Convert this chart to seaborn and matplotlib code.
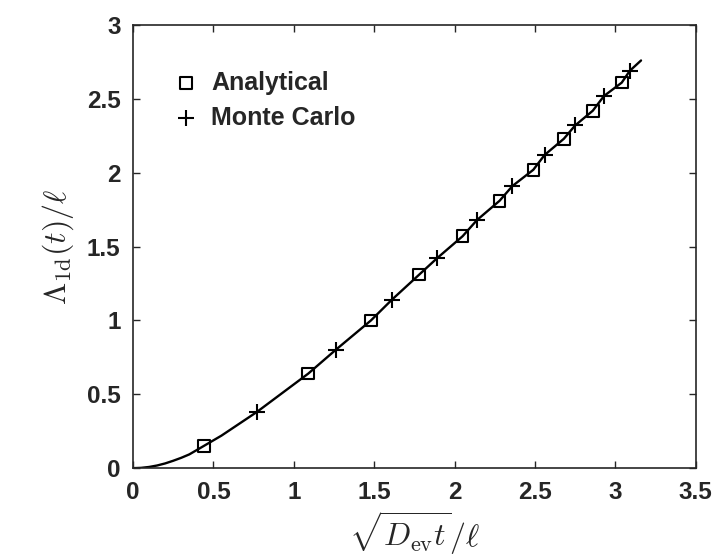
import matplotlib
matplotlib.use("Agg")
import matplotlib.pyplot as plt
import seaborn as sns
import pandas as pd

# Analytical points
x_analytical = [0.44, 1.09, 1.48, 1.78, 2.05, 2.28, 2.49, 2.68, 2.86, 3.04]
y_analytical = [0.15, 0.64, 1.00, 1.31, 1.57, 1.81, 2.02, 2.23, 2.42, 2.61]

# Monte Carlo points
x_mc = [0.77, 1.26, 1.61, 1.89, 2.14, 2.36, 2.56, 2.75, 2.93, 3.09]
y_mc = [0.38, 0.80, 1.14, 1.42, 1.68, 1.91, 2.12, 2.32, 2.52, 2.69]

# Continuous curve
x_curve = [0.0, 0.05, 0.1, 0.15, 0.2, 0.25, 0.3, 0.35, 0.44, 0.55, 0.66, 0.77,
           0.93, 1.09, 1.26, 1.48, 1.61, 1.78, 1.89, 2.05, 2.14, 2.28, 2.36,
           2.49, 2.56, 2.68, 2.75, 2.86, 2.93, 3.04, 3.09, 3.16]
y_curve = [0.0, 0.002, 0.008, 0.018, 0.032, 0.05, 0.07, 0.093, 0.15, 0.22,
           0.30, 0.38, 0.51, 0.64, 0.80, 1.00, 1.14, 1.31, 1.42, 1.57, 1.68,
           1.81, 1.91, 2.02, 2.12, 2.23, 2.32, 2.42, 2.52, 2.61, 2.69, 2.76]

x_ticks = [0, 0.5, 1, 1.5, 2, 2.5, 3, 3.5]
y_ticks = [0, 0.5, 1, 1.5, 2, 2.5, 3]
x_tick_labels = ["0", "0.5", "1", "1.5", "2", "2.5", "3", "3.5"]
y_tick_labels = ["0", "0.5", "1", "1.5", "2", "2.5", "3"]

sns.set_style("ticks")
plt.rcParams["font.family"] = ["Liberation Sans", "DejaVu Sans"]
plt.rcParams["mathtext.fontset"] = "cm"

fig = plt.figure(figsize=(7.15, 5.56), dpi=100)
ax = fig.add_axes([0.186, 0.158, 0.787, 0.797])

curve = pd.DataFrame({"x": x_curve, "y": y_curve})
ana = pd.DataFrame({"x": x_analytical, "y": y_analytical})
mc = pd.DataFrame({"x": x_mc, "y": y_mc})

sns.lineplot(data=curve, x="x", y="y", ax=ax, color="black", linewidth=1.7,
             sort=False, legend=False)
sns.scatterplot(data=ana, x="x", y="y", ax=ax, marker="s", s=70,
                facecolor="none", edgecolor="black", linewidth=1.5,
                label="Analytical", zorder=3)
sns.scatterplot(data=mc, x="x", y="y", ax=ax, marker="+", s=120,
                color="black", linewidth=1.5, label="Monte Carlo", zorder=3)

ax.set_xlim(0, 3.5)
ax.set_ylim(0, 3)
ax.set_xticks(x_ticks)
ax.set_xticklabels(x_tick_labels)
ax.set_yticks(y_ticks)
ax.set_yticklabels(y_tick_labels)
ax.tick_params(direction="in", top=True, right=True, length=5, width=1,
               labelsize=17.5, pad=9)
for lab in ax.get_xticklabels() + ax.get_yticklabels():
    lab.set_fontweight("bold")
for sp in ax.spines.values():
    sp.set_linewidth(1.2)

ax.set_xlabel(r"$\sqrt{D_{\rm ev}t}/\ell$", fontsize=23, labelpad=4)
ax.set_ylabel(r"$\Lambda_{\rm 1d}(t)/\ell$", fontsize=23, labelpad=8)

leg = ax.legend(loc="upper left", frameon=False, fontsize=18,
                bbox_to_anchor=(0.03, 0.948), handletextpad=0.45,
                labelspacing=0.45, handlelength=1.1)
for t in leg.get_texts():
    t.set_fontweight("bold")

fig.savefig("out.png", dpi=100)
